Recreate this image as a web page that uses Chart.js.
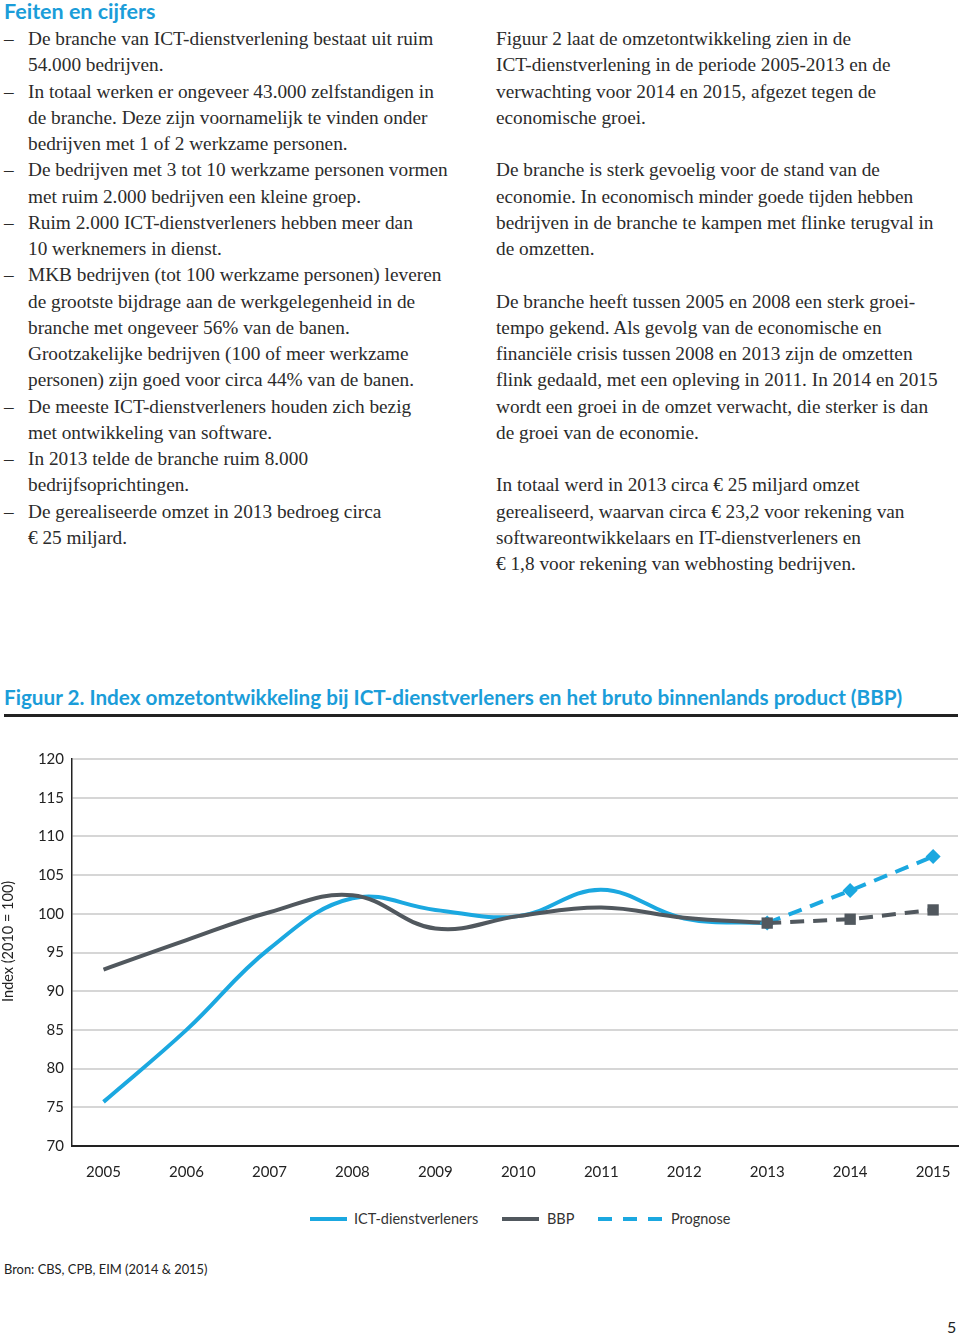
<!DOCTYPE html>
<html>
<head>
<meta charset="utf-8">
<script src="https://cdn.jsdelivr.net/npm/chart.js@4/dist/chart.umd.min.js"></script>
<style>
    body { margin: 0; width: 960px; height: 1333px; background: #fff; position: relative; overflow: hidden; }
    .kop { position: absolute; left: 4px; font-family: Lato, sans-serif; font-weight: bold; color: #1b9dd9; white-space: nowrap; }
    .kolom { position: absolute; top: 26px; font-family: "Liberation Serif", serif; font-size: 19.3px; line-height: 26.25px; color: #2b2b2b; white-space: nowrap; }
    .kolom div { position: relative; height: 26.25px; }
    .streep { position: absolute; left: -24px; }
    .legenda { position: absolute; top: 1209px; height: 20px; font-family: Lato, sans-serif; font-size: 14.5px; color: #333; }
    .legenda span { position: absolute; top: 0; line-height: 20px; white-space: nowrap; }
    .legenda i { position: absolute; top: 8px; height: 4px; }
</style>
</head>
<body>

<div class="kop" style="top: -2px; font-size: 21.5px;">Feiten en cijfers</div>

<div class="kolom" style="left: 28px;">
    <div><span class="streep">–</span>De branche van ICT-dienstverlening bestaat uit ruim</div>
    <div>54.000 bedrijven.</div>
    <div><span class="streep">–</span>In totaal werken er ongeveer 43.000 zelfstandigen in</div>
    <div>de branche. Deze zijn voornamelijk te vinden onder</div>
    <div>bedrijven met 1 of 2 werkzame personen.</div>
    <div><span class="streep">–</span>De bedrijven met 3 tot 10 werkzame personen vormen</div>
    <div>met ruim 2.000 bedrijven een kleine groep.</div>
    <div><span class="streep">–</span>Ruim 2.000 ICT-dienstverleners hebben meer dan</div>
    <div>10 werknemers in dienst.</div>
    <div><span class="streep">–</span>MKB bedrijven (tot 100 werkzame personen) leveren</div>
    <div>de grootste bijdrage aan de werkgelegenheid in de</div>
    <div>branche met ongeveer 56% van de banen.</div>
    <div>Grootzakelijke bedrijven (100 of meer werkzame</div>
    <div>personen) zijn goed voor circa 44% van de banen.</div>
    <div><span class="streep">–</span>De meeste ICT-dienstverleners houden zich bezig</div>
    <div>met ontwikkeling van software.</div>
    <div><span class="streep">–</span>In 2013 telde de branche ruim 8.000</div>
    <div>bedrijfsoprichtingen.</div>
    <div><span class="streep">–</span>De gerealiseerde omzet in 2013 bedroeg circa</div>
    <div>€ 25 miljard.</div>
</div>

<div class="kolom" style="left: 496px;">
    <div>Figuur 2 laat de omzetontwikkeling zien in de</div>
    <div>ICT-dienstverlening in de periode 2005-2013 en de</div>
    <div>verwachting voor 2014 en 2015, afgezet tegen de</div>
    <div>economische groei.</div>
    <div></div>
    <div>De branche is sterk gevoelig voor de stand van de</div>
    <div>economie. In economisch minder goede tijden hebben</div>
    <div>bedrijven in de branche te kampen met flinke terugval in</div>
    <div>de omzetten.</div>
    <div></div>
    <div>De branche heeft tussen 2005 en 2008 een sterk groei-</div>
    <div>tempo gekend. Als gevolg van de economische en</div>
    <div>financiële crisis tussen 2008 en 2013 zijn de omzetten</div>
    <div>flink gedaald, met een opleving in 2011. In 2014 en 2015</div>
    <div>wordt een groei in de omzet verwacht, die sterker is dan</div>
    <div>de groei van de economie.</div>
    <div></div>
    <div>In totaal werd in 2013 circa € 25 miljard omzet</div>
    <div>gerealiseerd, waarvan circa € 23,2 voor rekening van</div>
    <div>softwareontwikkelaars en IT-dienstverleners en</div>
    <div>€ 1,8 voor rekening van webhosting bedrijven.</div>
</div>

<div class="kop" style="top: 685px; font-size: 20.7px;">Figuur 2. Index omzetontwikkeling bij ICT-dienstverleners en het bruto binnenlands product (BBP)</div>
<div style="position: absolute; left: 4px; top: 714px; width: 954px; height: 3px; background: #222;"></div>

<div style="position: absolute; left: 0; top: 740px; width: 960px; height: 450px;">
    <canvas id="grafiek"></canvas>
</div>

<div class="legenda">
    <i style="left: 310px; width: 37px; background: #1ba8e0;"></i>
    <span style="left: 354px;">ICT-dienstverleners</span>
    <i style="left: 502px; width: 37px; background: #51585e;"></i>
    <span style="left: 547px;">BBP</span>
    <i style="left: 598px; width: 65px; background: repeating-linear-gradient(to right, #1ba8e0 0 14px, transparent 14px 25px);"></i>
    <span style="left: 671px;">Prognose</span>
</div>

<div style="position: absolute; left: 4px; top: 1261px; font-family: Lato, sans-serif; font-size: 12.9px; color: #222;">Bron: CBS, CPB, EIM (2014 &amp; 2015)</div>
<div style="position: absolute; left: 947px; top: 1317px; font-family: Lato, sans-serif; font-size: 16px; color: #222;">5</div>

<script>
const jaren = [2005, 2006, 2007, 2008, 2009, 2010, 2011, 2012, 2013];
const ict = [75.7, 85.0, 95.5, 102.0, 100.5, 99.7, 103.1, 99.4, 98.8];
const bbp = [92.8, 96.6, 100.2, 102.4, 98.1, 99.7, 100.8, 99.5, 98.8];

const prognoseJaren = [2013, 2014, 2015];
const ictPrognose = [98.8, 103.0, 107.4];
const bbpPrognose = [98.8, 99.3, 100.5];

const asJaren = [2005, 2006, 2007, 2008, 2009, 2010, 2011, 2012, 2013, 2014, 2015];

const blauw = "#1ba8e0";
const grijs = "#51585e";

const punten = (xs, ys) => xs.map((x, i) => ({ x: x, y: ys[i] }));

const data = {
    datasets: [
        {
            label: "ICT-dienstverleners",
            data: punten(jaren, ict),
            borderColor: blauw,
            borderWidth: 4,
            pointRadius: 0,
            tension: 0.4,
            order: 3,
        },
        {
            label: "BBP",
            data: punten(jaren, bbp),
            borderColor: grijs,
            borderWidth: 4,
            pointRadius: 0,
            tension: 0.4,
            order: 2,
        },
        {
            label: "Prognose",
            data: punten(prognoseJaren, ictPrognose),
            borderColor: blauw,
            backgroundColor: blauw,
            borderWidth: 4,
            borderDash: [14, 9],
            pointStyle: "rectRot",
            pointRadius: 7.5,
            pointBorderWidth: 0,
            order: 1,
        },
        {
            label: "Prognose BBP",
            data: punten(prognoseJaren, bbpPrognose),
            borderColor: grijs,
            backgroundColor: grijs,
            borderWidth: 4,
            borderDash: [14, 9],
            pointStyle: "rect",
            pointRadius: 8,
            pointBorderWidth: 0,
            order: 0,
        },
    ]
};

const config = {
    type: "line",
    data: data,
    options: {
        responsive: true,
        maintainAspectRatio: false,
        animation: false,
        layout: { autoPadding: false, padding: { top: 19, right: 2, left: 0, bottom: 0 } },
        plugins: {
            legend: { display: false },
            tooltip: { enabled: false },
        },
        scales: {
            x: {
                type: "linear",
                min: 2004.62,
                max: 2015.30,
                afterBuildTicks: (as) => { as.ticks = asJaren.map(v => ({ value: v })); },
                afterFit: (as) => { as.height = 44; },
                // onzichtbare tick-streepjes: de labels komen lager zonder extra ruimte rechts
                grid: { display: true, drawOnChartArea: false, drawTicks: true, tickLength: 15, tickColor: "transparent", color: "transparent" },
                border: { display: true, color: "#222", width: 2 },
                ticks: {
                    padding: 2,
                    color: "#222",
                    font: { family: "Lato", size: 15 },
                    callback: (v) => String(v),
                },
            },
            y: {
                min: 70,
                max: 120,
                afterFit: (as) => { as.width = 72; },
                grid: { color: "#d6d6d6", lineWidth: 2, drawTicks: false },
                border: { display: true, color: "#222", width: 1.5 },
                ticks: {
                    stepSize: 5,
                    padding: 8,
                    color: "#222",
                    font: { family: "Lato", size: 15 },
                },
                title: {
                    display: true,
                    // voorloopspaties schuiven de titel iets omhoog, zoals in het origineel
                    text: "      Index (2010 = 100)",
                    color: "#222",
                    font: { family: "Lato", size: 14.5 },
                    padding: { top: 0, bottom: 0 },
                },
            },
        },
    },
};

const graph = new Chart(document.querySelector("#grafiek"), config);
</script>
</body>
</html>
